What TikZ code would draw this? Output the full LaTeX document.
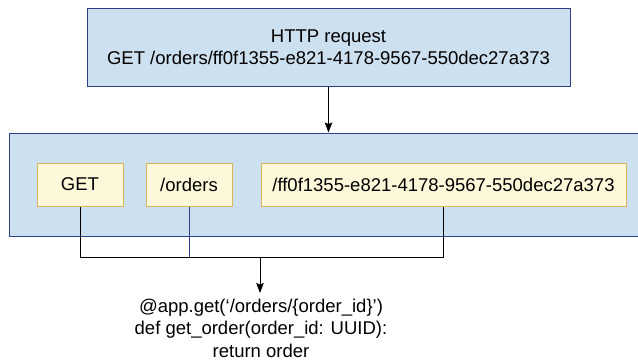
\documentclass[tikz,border=0pt]{standalone}
\usepackage{fontspec}
\setmainfont{Liberation Sans}
\usetikzlibrary{arrows.meta}
\definecolor{boxblue}{HTML}{CDE0F0}
\definecolor{navy}{HTML}{2E3F8C}
\definecolor{paleyellow}{HTML}{FDF8DA}
\definecolor{goldline}{HTML}{D6B656}
\tikzset{
  x=1pt, y=-1pt,
  bluebox/.style={draw=navy, fill=boxblue, line width=1pt, inner sep=0pt},
  partbox/.style={draw=goldline, fill=paleyellow, line width=1pt, inner sep=0pt, minimum height=43pt},
  conn/.style={line width=1pt, black},
  arr/.style={conn, -{Stealth[length=10pt, width=7.5pt, inset=1.5pt]}},
  txt/.style={font=\fontsize{18.5}{22.5}\selectfont, align=center}
}
\begin{document}
\begin{tikzpicture}
\useasboundingbox (0,0) rectangle (638,362);
\clip (0,0) rectangle (638,362);
\node[bluebox, txt, minimum width=483pt, minimum height=78pt] (top) at (328.5,47)
  {HTTP request\\GET /orders/ff0f1355-e821-4178-9567-550dec27a373};
\node[bluebox, minimum width=636pt, minimum height=103pt] (mid) at (327,184.5) {};
\node[partbox, txt, minimum width=86pt] (get) at (80,184.5) {GET};
\node[partbox, txt, minimum width=86pt] (orders) at (189,184.5) {/orders};
\node[partbox, txt, minimum width=365pt] (id) at (443.5,184.5) {/ff0f1355-e821-4178-9567-550dec27a373};
\coordinate (j) at (260,257);
\node[txt, anchor=north, inner xsep=0pt, inner ysep=5.5pt] (code) at (261,293)
  {@app.get(‘/orders/\{order\_id\}’)\\def get\_order(order\_id: UUID):\\return order};
\draw[arr] (top.south) -- (top.south |- mid.north);
\draw[conn] (get.south) -- (get.south |- j) -- (id.south |- j) -- (id.south);
\draw[conn, navy] (orders.south) -- (orders.south |- j);
\draw[arr] (j) -- (j |- code.north);
\end{tikzpicture}
\end{document}
